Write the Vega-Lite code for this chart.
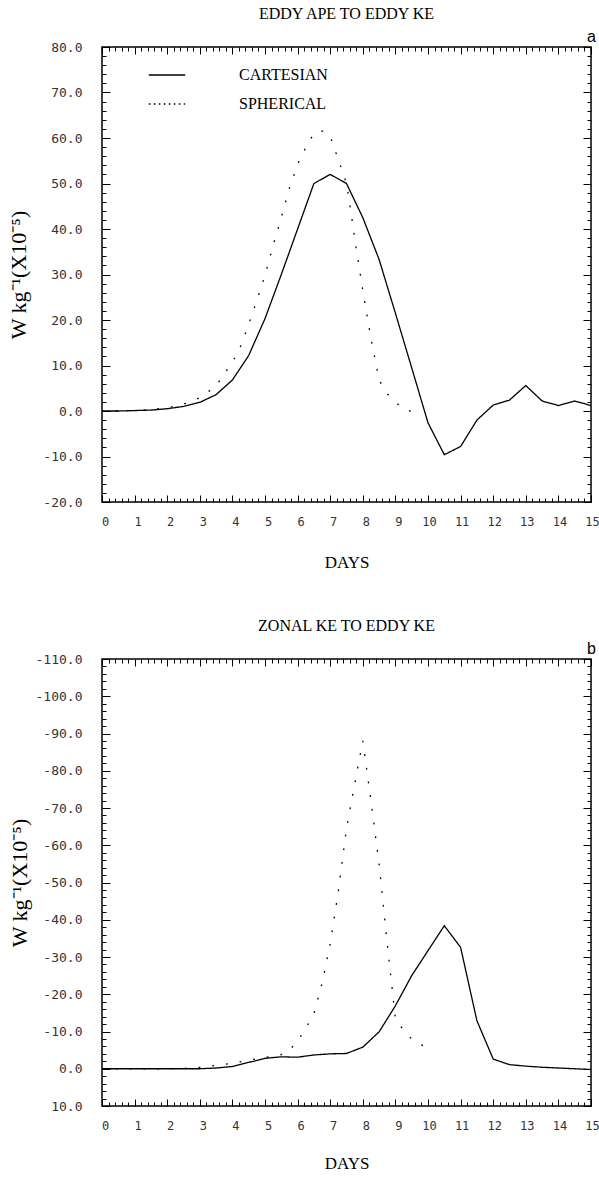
{
  "$schema": "https://vega.github.io/schema/vega-lite/v6.json",
  "background": "white",
  "padding": {"left": 7, "top": 4, "right": 4, "bottom": 4},
  "spacing": 157,
  "bounds": "flush",
  "config": {
    "view": {"stroke": "black", "strokeWidth": 1.5},
    "font": "Liberation Serif",
    "axis": {
      "domain": false,
      "grid": false,
      "labelFont": "DejaVu Sans Mono",
      "labelFontSize": 13,
      "labelColor": "#333333",
      "labelOverlap": false,
      "labelFlush": false,
      "labelBound": false,
      "tickColor": "black",
      "tickWidth": 1,
      "titleFont": "Liberation Serif",
      "titleFontWeight": "normal",
      "titleFontSize": 17,
      "titleColor": "black"
    },
    "axisBottom": {"labelFontSize": 12},
    "title": {"font": "Liberation Serif", "fontSize": 16, "fontWeight": "normal", "color": "black"},
    "legend": {
      "title": null,
      "padding": 0,
      "rowPadding": 6,
      "symbolType": "M-1.3,0H1.3",
      "symbolSize": 784,
      "symbolStrokeWidth": 1.4,
      "symbolStrokeColor": "black",
      "symbolFillColor": "transparent",
      "labelFont": "Liberation Serif",
      "labelFontSize": 16,
      "labelColor": "black",
      "labelOffset": 57
    }
  },
  "datasets": {
    "a": [
      {"day": 0, "value": 0, "model": "CARTESIAN"},
      {"day": 0.5, "value": 0, "model": "CARTESIAN"},
      {"day": 1, "value": 0.1, "model": "CARTESIAN"},
      {"day": 1.5, "value": 0.2, "model": "CARTESIAN"},
      {"day": 2, "value": 0.5, "model": "CARTESIAN"},
      {"day": 2.5, "value": 1.0, "model": "CARTESIAN"},
      {"day": 3, "value": 1.9, "model": "CARTESIAN"},
      {"day": 3.5, "value": 3.6, "model": "CARTESIAN"},
      {"day": 4, "value": 6.8, "model": "CARTESIAN"},
      {"day": 4.5, "value": 12.2, "model": "CARTESIAN"},
      {"day": 5, "value": 20.3, "model": "CARTESIAN"},
      {"day": 5.5, "value": 30.0, "model": "CARTESIAN"},
      {"day": 6, "value": 40.0, "model": "CARTESIAN"},
      {"day": 6.5, "value": 50.0, "model": "CARTESIAN"},
      {"day": 7, "value": 52.0, "model": "CARTESIAN"},
      {"day": 7.5, "value": 50.0, "model": "CARTESIAN"},
      {"day": 8, "value": 42.5, "model": "CARTESIAN"},
      {"day": 8.5, "value": 33.3, "model": "CARTESIAN"},
      {"day": 9, "value": 21.5, "model": "CARTESIAN"},
      {"day": 9.5, "value": 9.5, "model": "CARTESIAN"},
      {"day": 10, "value": -2.6, "model": "CARTESIAN"},
      {"day": 10.5, "value": -9.6, "model": "CARTESIAN"},
      {"day": 11, "value": -7.8, "model": "CARTESIAN"},
      {"day": 11.5, "value": -2.0, "model": "CARTESIAN"},
      {"day": 12, "value": 1.3, "model": "CARTESIAN"},
      {"day": 12.5, "value": 2.4, "model": "CARTESIAN"},
      {"day": 13, "value": 5.6, "model": "CARTESIAN"},
      {"day": 13.5, "value": 2.2, "model": "CARTESIAN"},
      {"day": 14, "value": 1.2, "model": "CARTESIAN"},
      {"day": 14.5, "value": 2.2, "model": "CARTESIAN"},
      {"day": 15, "value": 1.2, "model": "CARTESIAN"},
      {"day": 0, "value": 0, "model": "SPHERICAL"},
      {"day": 0.5, "value": 0, "model": "SPHERICAL"},
      {"day": 1, "value": 0.1, "model": "SPHERICAL"},
      {"day": 1.5, "value": 0.3, "model": "SPHERICAL"},
      {"day": 2, "value": 0.7, "model": "SPHERICAL"},
      {"day": 2.5, "value": 1.5, "model": "SPHERICAL"},
      {"day": 3, "value": 2.9, "model": "SPHERICAL"},
      {"day": 3.5, "value": 5.5, "model": "SPHERICAL"},
      {"day": 3.75, "value": 8.2, "model": "SPHERICAL"},
      {"day": 4, "value": 10.7, "model": "SPHERICAL"},
      {"day": 4.25, "value": 14.2, "model": "SPHERICAL"},
      {"day": 4.5, "value": 19.0, "model": "SPHERICAL"},
      {"day": 4.75, "value": 24.3, "model": "SPHERICAL"},
      {"day": 5, "value": 29.8, "model": "SPHERICAL"},
      {"day": 5.25, "value": 36.4, "model": "SPHERICAL"},
      {"day": 5.5, "value": 42.5, "model": "SPHERICAL"},
      {"day": 5.75, "value": 49.0, "model": "SPHERICAL"},
      {"day": 6, "value": 54.2, "model": "SPHERICAL"},
      {"day": 6.25, "value": 57.9, "model": "SPHERICAL"},
      {"day": 6.5, "value": 61.0, "model": "SPHERICAL"},
      {"day": 6.7, "value": 61.6, "model": "SPHERICAL"},
      {"day": 6.85, "value": 61.3, "model": "SPHERICAL"},
      {"day": 7, "value": 60.4, "model": "SPHERICAL"},
      {"day": 7.25, "value": 55.2, "model": "SPHERICAL"},
      {"day": 7.5, "value": 50.0, "model": "SPHERICAL"},
      {"day": 7.6, "value": 45.5, "model": "SPHERICAL"},
      {"day": 7.75, "value": 38.0, "model": "SPHERICAL"},
      {"day": 8, "value": 26.5, "model": "SPHERICAL"},
      {"day": 8.25, "value": 16.0, "model": "SPHERICAL"},
      {"day": 8.5, "value": 6.8, "model": "SPHERICAL"},
      {"day": 8.75, "value": 3.8, "model": "SPHERICAL"},
      {"day": 9, "value": 1.9, "model": "SPHERICAL"},
      {"day": 9.25, "value": 0.6, "model": "SPHERICAL"},
      {"day": 9.5, "value": -0.2, "model": "SPHERICAL"},
      {"day": 9.75, "value": -0.2, "model": "SPHERICAL"}
    ],
    "b": [
      {"day": 0, "value": 0, "model": "CARTESIAN"},
      {"day": 0.5, "value": 0, "model": "CARTESIAN"},
      {"day": 1, "value": 0, "model": "CARTESIAN"},
      {"day": 1.5, "value": 0, "model": "CARTESIAN"},
      {"day": 2, "value": 0, "model": "CARTESIAN"},
      {"day": 2.5, "value": 0, "model": "CARTESIAN"},
      {"day": 3, "value": 0, "model": "CARTESIAN"},
      {"day": 3.5, "value": -0.2, "model": "CARTESIAN"},
      {"day": 4, "value": -0.6, "model": "CARTESIAN"},
      {"day": 4.5, "value": -1.7, "model": "CARTESIAN"},
      {"day": 5, "value": -2.8, "model": "CARTESIAN"},
      {"day": 5.5, "value": -3.2, "model": "CARTESIAN"},
      {"day": 6, "value": -3.1, "model": "CARTESIAN"},
      {"day": 6.5, "value": -3.7, "model": "CARTESIAN"},
      {"day": 7, "value": -4.0, "model": "CARTESIAN"},
      {"day": 7.5, "value": -4.1, "model": "CARTESIAN"},
      {"day": 8, "value": -5.8, "model": "CARTESIAN"},
      {"day": 8.5, "value": -9.9, "model": "CARTESIAN"},
      {"day": 9, "value": -16.9, "model": "CARTESIAN"},
      {"day": 9.5, "value": -25.0, "model": "CARTESIAN"},
      {"day": 10, "value": -31.7, "model": "CARTESIAN"},
      {"day": 10.5, "value": -38.4, "model": "CARTESIAN"},
      {"day": 11, "value": -32.6, "model": "CARTESIAN"},
      {"day": 11.5, "value": -12.9, "model": "CARTESIAN"},
      {"day": 12, "value": -2.6, "model": "CARTESIAN"},
      {"day": 12.5, "value": -1.1, "model": "CARTESIAN"},
      {"day": 13, "value": -0.7, "model": "CARTESIAN"},
      {"day": 13.5, "value": -0.4, "model": "CARTESIAN"},
      {"day": 14, "value": -0.2, "model": "CARTESIAN"},
      {"day": 14.5, "value": 0, "model": "CARTESIAN"},
      {"day": 15, "value": 0.2, "model": "CARTESIAN"},
      {"day": 0, "value": 0, "model": "SPHERICAL"},
      {"day": 0.5, "value": 0, "model": "SPHERICAL"},
      {"day": 1, "value": 0, "model": "SPHERICAL"},
      {"day": 1.5, "value": 0, "model": "SPHERICAL"},
      {"day": 2, "value": 0, "model": "SPHERICAL"},
      {"day": 2.5, "value": -0.1, "model": "SPHERICAL"},
      {"day": 3, "value": -0.35, "model": "SPHERICAL"},
      {"day": 3.5, "value": -0.9, "model": "SPHERICAL"},
      {"day": 4, "value": -1.5, "model": "SPHERICAL"},
      {"day": 4.5, "value": -2.3, "model": "SPHERICAL"},
      {"day": 5, "value": -3.0, "model": "SPHERICAL"},
      {"day": 5.5, "value": -3.8, "model": "SPHERICAL"},
      {"day": 5.75, "value": -5.0, "model": "SPHERICAL"},
      {"day": 6, "value": -7.4, "model": "SPHERICAL"},
      {"day": 6.25, "value": -10.8, "model": "SPHERICAL"},
      {"day": 6.5, "value": -14.8, "model": "SPHERICAL"},
      {"day": 6.75, "value": -22.9, "model": "SPHERICAL"},
      {"day": 7, "value": -33.5, "model": "SPHERICAL"},
      {"day": 7.25, "value": -47.7, "model": "SPHERICAL"},
      {"day": 7.5, "value": -64.5, "model": "SPHERICAL"},
      {"day": 7.75, "value": -76.4, "model": "SPHERICAL"},
      {"day": 8, "value": -88.0, "model": "SPHERICAL"},
      {"day": 8.25, "value": -72.0, "model": "SPHERICAL"},
      {"day": 8.5, "value": -55.0, "model": "SPHERICAL"},
      {"day": 8.75, "value": -33.5, "model": "SPHERICAL"},
      {"day": 9, "value": -13.5, "model": "SPHERICAL"},
      {"day": 9.25, "value": -10.3, "model": "SPHERICAL"},
      {"day": 9.5, "value": -8.0, "model": "SPHERICAL"},
      {"day": 9.75, "value": -6.6, "model": "SPHERICAL"},
      {"day": 10, "value": -5.6, "model": "SPHERICAL"}
    ]
  },
  "vconcat": [
    {
      "width": 489,
      "height": 455,
      "title": {"text": "EDDY APE TO EDDY KE", "frame": "group", "offset": 7, "anchor": "middle"},
      "data": {"name": "a"},
      "layer": [
        {
          "mark": {"type": "line", "color": "black", "strokeWidth": 1.3},
          "encoding": {
            "x": {
              "field": "day", "type": "quantitative",
              "scale": {"domain": [0, 15], "nice": false, "zero": false},
              "axis": {
                "orient": "bottom",
                "values": [0,0.2,0.4,0.6,0.8,1,1.2,1.4,1.6,1.8,2,2.2,2.4,2.6,2.8,3,3.2,3.4,3.6,3.8,4,4.2,4.4,4.6,4.8,5,5.2,5.4,5.6,5.8,6,6.2,6.4,6.6,6.8,7,7.2,7.4,7.6,7.8,8,8.2,8.4,8.6,8.8,9,9.2,9.4,9.6,9.8,10,10.2,10.4,10.6,10.8,11,11.2,11.4,11.6,11.8,12,12.2,12.4,12.6,12.8,13,13.2,13.4,13.6,13.8,14,14.2,14.4,14.6,14.8,15],
                "labelExpr": "datum.value % 1 === 0 ? '' + datum.value : ''",
                "tickSize": {"condition": {"test": "datum.value % 1 === 0", "value": -7}, "value": -4},
                "labelPadding": 21,
                "labelOffset": {"condition": {"test": "datum.value < 10", "value": 3}, "value": 1},
                "title": "DAYS",
                "titlePadding": 24
              }
            },
            "y": {
              "field": "value", "type": "quantitative",
              "scale": {"domain": [-20, 80], "nice": false, "zero": false},
              "axis": {
                "orient": "left",
                "values": [-20,-18,-16,-14,-12,-10,-8,-6,-4,-2,0,2,4,6,8,10,12,14,16,18,20,22,24,26,28,30,32,34,36,38,40,42,44,46,48,50,52,54,56,58,60,62,64,66,68,70,72,74,76,78,80],
                "labelExpr": "datum.value % 10 === 0 ? datum.value + '.0' : ''",
                "tickSize": {"condition": {"test": "datum.value % 10 === 0", "value": -8}, "value": -4},
                "labelPadding": 28,
                "title": "W kg⁻¹(X10⁻⁵)",
                "titleFontSize": 22,
                "titlePadding": 12
              }
            },
            "strokeDash": {
              "field": "model", "type": "nominal",
              "scale": {"domain": ["CARTESIAN", "SPHERICAL"], "range": [[1, 0], [1.8, 12]]},
              "legend": null
            }
          }
        },
        {
          "mark": {"type": "point", "opacity": 0},
          "encoding": {
            "x": {
              "field": "day", "type": "quantitative",
              "axis": {
                "orient": "top",
                "values": [0,0.2,0.4,0.6,0.8,1,1.2,1.4,1.6,1.8,2,2.2,2.4,2.6,2.8,3,3.2,3.4,3.6,3.8,4,4.2,4.4,4.6,4.8,5,5.2,5.4,5.6,5.8,6,6.2,6.4,6.6,6.8,7,7.2,7.4,7.6,7.8,8,8.2,8.4,8.6,8.8,9,9.2,9.4,9.6,9.8,10,10.2,10.4,10.6,10.8,11,11.2,11.4,11.6,11.8,12,12.2,12.4,12.6,12.8,13,13.2,13.4,13.6,13.8,14,14.2,14.4,14.6,14.8,15],
                "labels": false,
                "tickSize": {"condition": {"test": "datum.value % 1 === 0", "value": -7}, "value": -4},
                "title": "a",
                "titleFont": "Liberation Sans",
                "titleFontSize": 16,
                "titleAnchor": "end",
                "titleAlign": "center",
                "titlePadding": 2
              }
            },
            "y": {
              "field": "value", "type": "quantitative",
              "axis": {
                "orient": "right",
                "values": [-20,-18,-16,-14,-12,-10,-8,-6,-4,-2,0,2,4,6,8,10,12,14,16,18,20,22,24,26,28,30,32,34,36,38,40,42,44,46,48,50,52,54,56,58,60,62,64,66,68,70,72,74,76,78,80],
                "labels": false,
                "tickSize": {"condition": {"test": "datum.value % 10 === 0", "value": -8}, "value": -4},
                "title": null
              }
            }
          }
        },
        {
          "transform": [{"filter": "datum.day < 0"}],
          "mark": {"type": "line", "color": "black", "strokeWidth": 1.4},
          "encoding": {
            "x": {"field": "day", "type": "quantitative", "axis": null},
            "y": {"field": "value", "type": "quantitative", "axis": null},
            "strokeDash": {
              "field": "model", "type": "nominal",
              "scale": {"domain": ["CARTESIAN", "SPHERICAL"], "range": [[1, 0], [1.6, 3.4]]},
              "legend": {"orient": "none", "legendX": 50, "legendY": 13}
            }
          }
        }
      ],
      "resolve": {"axis": {"x": "independent", "y": "independent"}, "scale": {"strokeDash": "independent"}}
    },
    {
      "width": 489,
      "height": 447,
      "title": {"text": "ZONAL KE TO EDDY KE", "frame": "group", "offset": 7, "anchor": "middle"},
      "data": {"name": "b"},
      "layer": [
        {
          "mark": {"type": "line", "color": "black", "strokeWidth": 1.3},
          "encoding": {
            "x": {
              "field": "day", "type": "quantitative",
              "scale": {"domain": [0, 15], "nice": false, "zero": false},
              "axis": {
                "orient": "bottom",
                "values": [0,0.2,0.4,0.6,0.8,1,1.2,1.4,1.6,1.8,2,2.2,2.4,2.6,2.8,3,3.2,3.4,3.6,3.8,4,4.2,4.4,4.6,4.8,5,5.2,5.4,5.6,5.8,6,6.2,6.4,6.6,6.8,7,7.2,7.4,7.6,7.8,8,8.2,8.4,8.6,8.8,9,9.2,9.4,9.6,9.8,10,10.2,10.4,10.6,10.8,11,11.2,11.4,11.6,11.8,12,12.2,12.4,12.6,12.8,13,13.2,13.4,13.6,13.8,14,14.2,14.4,14.6,14.8,15],
                "labelExpr": "datum.value % 1 === 0 ? '' + datum.value : ''",
                "tickSize": {"condition": {"test": "datum.value % 1 === 0", "value": -7}, "value": -4},
                "labelPadding": 21,
                "labelOffset": {"condition": {"test": "datum.value < 10", "value": 3}, "value": 1},
                "title": "DAYS",
                "titlePadding": 21
              }
            },
            "y": {
              "field": "value", "type": "quantitative",
              "scale": {"domain": [-110, 10], "reverse": true, "nice": false, "zero": false},
              "axis": {
                "orient": "left",
                "values": [-110,-108,-106,-104,-102,-100,-98,-96,-94,-92,-90,-88,-86,-84,-82,-80,-78,-76,-74,-72,-70,-68,-66,-64,-62,-60,-58,-56,-54,-52,-50,-48,-46,-44,-42,-40,-38,-36,-34,-32,-30,-28,-26,-24,-22,-20,-18,-16,-14,-12,-10,-8,-6,-4,-2,0,2,4,6,8,10],
                "labelExpr": "datum.value % 10 === 0 ? datum.value + '.0' : ''",
                "tickSize": {"condition": {"test": "datum.value % 10 === 0", "value": -8}, "value": -4},
                "labelPadding": 28,
                "title": "W kg⁻¹(X10⁻⁵)",
                "titleFontSize": 22,
                "titlePadding": 4
              }
            },
            "strokeDash": {
              "field": "model", "type": "nominal",
              "scale": {"domain": ["CARTESIAN", "SPHERICAL"], "range": [[1, 0], [1.8, 12]]},
              "legend": null
            }
          }
        },
        {
          "mark": {"type": "point", "opacity": 0},
          "encoding": {
            "x": {
              "field": "day", "type": "quantitative",
              "axis": {
                "orient": "top",
                "values": [0,0.2,0.4,0.6,0.8,1,1.2,1.4,1.6,1.8,2,2.2,2.4,2.6,2.8,3,3.2,3.4,3.6,3.8,4,4.2,4.4,4.6,4.8,5,5.2,5.4,5.6,5.8,6,6.2,6.4,6.6,6.8,7,7.2,7.4,7.6,7.8,8,8.2,8.4,8.6,8.8,9,9.2,9.4,9.6,9.8,10,10.2,10.4,10.6,10.8,11,11.2,11.4,11.6,11.8,12,12.2,12.4,12.6,12.8,13,13.2,13.4,13.6,13.8,14,14.2,14.4,14.6,14.8,15],
                "labels": false,
                "tickSize": {"condition": {"test": "datum.value % 1 === 0", "value": -7}, "value": -4},
                "title": "b",
                "titleFont": "Liberation Sans",
                "titleFontSize": 16,
                "titleAnchor": "end",
                "titleAlign": "center",
                "titlePadding": 2
              }
            },
            "y": {
              "field": "value", "type": "quantitative",
              "axis": {
                "orient": "right",
                "values": [-110,-108,-106,-104,-102,-100,-98,-96,-94,-92,-90,-88,-86,-84,-82,-80,-78,-76,-74,-72,-70,-68,-66,-64,-62,-60,-58,-56,-54,-52,-50,-48,-46,-44,-42,-40,-38,-36,-34,-32,-30,-28,-26,-24,-22,-20,-18,-16,-14,-12,-10,-8,-6,-4,-2,0,2,4,6,8,10],
                "labels": false,
                "tickSize": {"condition": {"test": "datum.value % 10 === 0", "value": -8}, "value": -4},
                "title": null
              }
            }
          }
        }
      ],
      "resolve": {"axis": {"x": "independent", "y": "independent"}}
    }
  ],
  "resolve": {"scale": {"strokeDash": "independent"}}
}
